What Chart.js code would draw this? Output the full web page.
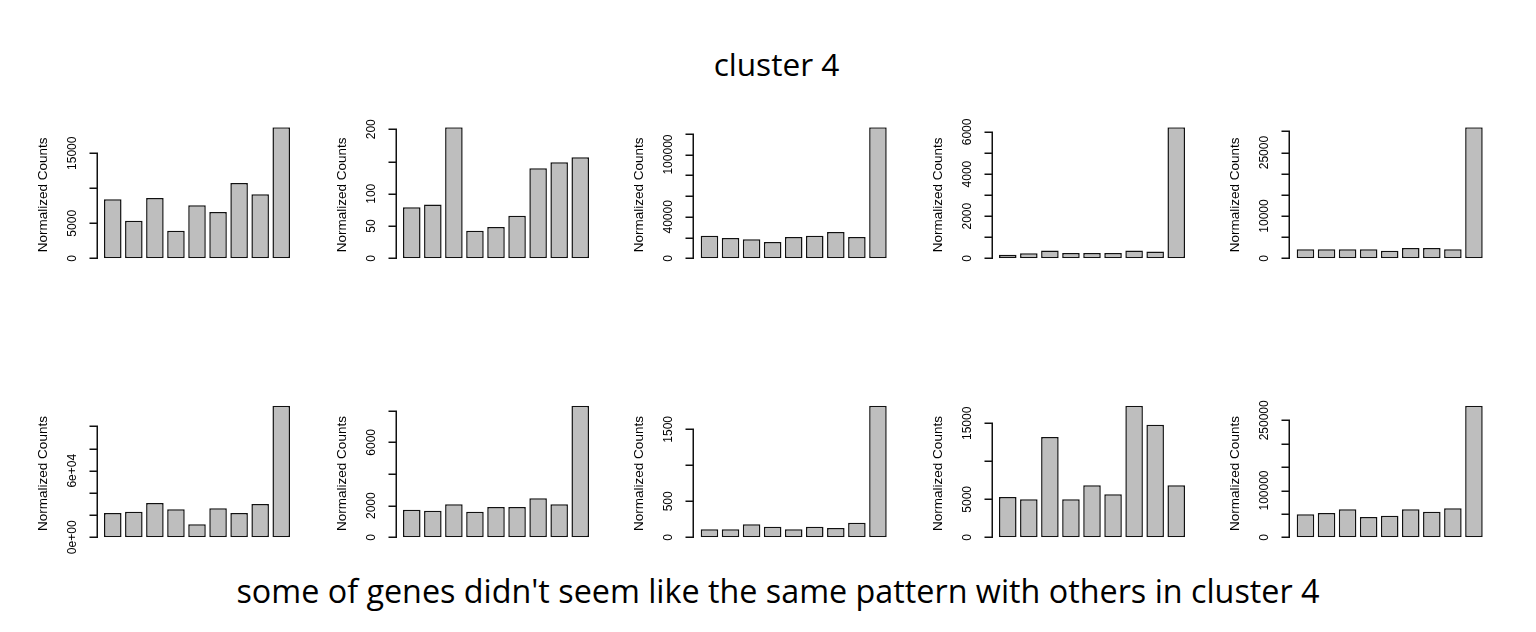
<!DOCTYPE html>
<html>
<head>
<meta charset="utf-8">
<script src="https://cdn.jsdelivr.net/npm/chart.js@4.4.1/dist/chart.umd.min.js"></script>
<style>
  body { margin: 0; background: #fff; width: 1536px; height: 632px; overflow: hidden; position: relative; }
  canvas { position: absolute; }
  .txt { position: absolute; left: 0; text-align: center; font-family: "Open Sans", "Noto Sans", sans-serif;
         font-size: 32px; line-height: 32px; color: #000; white-space: nowrap; }
</style>
</head>
<body>
<div class="txt" id="title" style="top:48px;width:1553px;font-size:31.6px">cluster 4</div>
<div class="txt" id="caption" style="top:574px;width:1556px;font-size:32.3px">some of genes didn't seem like the same pattern with others in cluster 4</div>
<script>
// nine samples per gene, no names shown on the x axis
const samples = ['1', '2', '3', '4', '5', '6', '7', '8', '9'];

// top row
const gene1 = [8430, 5370, 8610, 3940, 7570, 6610, 10760, 9140, 18710];
const gene2 = [79, 83.5, 203, 42.7, 48.4, 65.9, 139.6, 149, 156.6];
const gene3 = [21730, 19520, 18270, 15670, 20480, 21730, 25290, 20480, 126250];
const gene4 = [170, 240, 370, 250, 250, 250, 370, 320, 6220];
const gene5 = [2120, 2120, 2120, 2120, 1790, 2430, 2430, 2120, 30970];
// bottom row
const gene6 = [21890, 23060, 30900, 25230, 11710, 26130, 21890, 30000, 118560];
const gene7 = [1744, 1680, 2085, 1617, 1914, 1914, 2464, 2085, 8313];
const gene8 = [111, 111, 181, 147, 111, 147, 129, 203, 1828];
const gene9 = [5303, 5000, 13200, 5000, 6842, 5658, 17316, 14816, 6842];
const gene10 = [49150, 51920, 59830, 43380, 46150, 59830, 54700, 61970, 281200];

// y axis ticks and their printed labels ('' = tick without label)
const ticks1 = [0, 5000, 10000, 15000];            const labels1 = ['0', '5000', '', '15000'];
const ticks2 = [0, 50, 100, 150, 200];             const labels2 = ['0', '50', '100', '', '200'];
const ticks3 = [0, 20000, 40000, 60000, 80000, 100000, 120000];
const labels3 = ['0', '', '40000', '', '', '100000', ''];
const ticks4 = [0, 1000, 2000, 3000, 4000, 5000, 6000];
const labels4 = ['0', '', '2000', '', '4000', '', '6000'];
const ticks5 = [0, 5000, 10000, 15000, 20000, 25000, 30000];
const labels5 = ['0', '', '10000', '', '', '25000', ''];
const ticks6 = [0, 20000, 40000, 60000, 80000, 100000];
const labels6 = ['0e+00', '', '', '6e+04', '', ''];
const ticks7 = [0, 2000, 4000, 6000, 8000];        const labels7 = ['0', '2000', '', '6000', ''];
const ticks8 = [0, 500, 1000, 1500];               const labels8 = ['0', '500', '', '1500'];
const ticks9 = [0, 5000, 10000, 15000];            const labels9 = ['0', '5000', '', '15000'];
const ticks10 = [0, 50000, 100000, 150000, 200000, 250000];
const labels10 = ['0', '', '100000', '', '', '250000'];

const yTitle = 'Normalized Counts';

const panels = [
  [gene1, ticks1, labels1], [gene2, ticks2, labels2], [gene3, ticks3, labels3],
  [gene4, ticks4, labels4], [gene5, ticks5, labels5],
  [gene6, ticks6, labels6], [gene7, ticks7, labels7], [gene8, ticks8, labels8],
  [gene9, ticks9, labels9], [gene10, ticks10, labels10]
];

// layout of the 2 x 5 grid (left edge of first bar, pixel of 0 and of the max)
const colBarLeft = [104, 403, 700.7, 999, 1296.7];
const rowZero = [258.3, 537.3];
const rowTop = [127.3, 405.7];
const barsWidth = 186;
const gapHalf = 1.755;

// R style left axis: line only between first and last tick, rotated labels
const rAxis = {
  id: 'rAxis',
  afterDatasetsDraw(chart, args, opts) {
    const ctx = chart.ctx;
    const y = chart.scales.y;
    const area = chart.chartArea;
    const ax = Math.round(area.left - 5.5) + 0.25;
    const ticks = opts.ticks, labels = opts.labels;
    ctx.save();
    ctx.strokeStyle = '#111';
    ctx.lineWidth = 1.5;
    ctx.lineCap = 'square';
    ctx.beginPath();
    ctx.moveTo(ax, Math.round(y.getPixelForValue(ticks[0])) + 0.25);
    ctx.lineTo(ax, Math.round(y.getPixelForValue(ticks[ticks.length - 1])) + 0.25);
    ticks.forEach(t => {
      const py = Math.round(y.getPixelForValue(t)) + 0.25;
      ctx.moveTo(ax, py);
      ctx.lineTo(ax - 7, py);
    });
    ctx.stroke();

    ctx.fillStyle = '#000';
    ctx.textAlign = 'center';
    ctx.textBaseline = 'middle';
    ctx.font = '12px "Liberation Sans", Arial, sans-serif';
    ticks.forEach((t, i) => {
      if (!labels[i]) return;
      ctx.save();
      ctx.translate(ax - 24.5, y.getPixelForValue(t));
      ctx.rotate(-Math.PI / 2);
      ctx.fillText(labels[i], 0, 0);
      ctx.restore();
    });

    ctx.font = '13.5px "Liberation Sans", Arial, sans-serif';
    ctx.translate(ax - 53.5, (area.top + area.bottom) / 2 + 2);
    ctx.rotate(-Math.PI / 2);
    ctx.fillText(yTitle, 0, 0);
    ctx.restore();
  }
};

panels.forEach(([values, ticks, labels], i) => {
  const col = i % 5, row = Math.floor(i / 5);
  const barLeft = colBarLeft[col];
  const left = Math.round(barLeft - 80);
  const top = Math.round(rowTop[row] - 20);
  const width = 280;
  const height = Math.round(rowZero[row] + 20) - top;

  const canvas = document.createElement('canvas');
  canvas.width = width;
  canvas.height = height;
  canvas.style.left = left + 'px';
  canvas.style.top = top + 'px';
  document.body.appendChild(canvas);

  const padLeft = barLeft - gapHalf - left;
  const padRight = width - (barLeft + barsWidth + gapHalf - left);
  const padTop = rowTop[row] - top;
  const padBottom = height - (rowZero[row] - top);

  new Chart(canvas, {
    type: 'bar',
    data: {
      labels: samples,
      datasets: [{
        data: values,
        backgroundColor: '#bebebe',
        borderColor: '#111',
        borderWidth: 1.5,
        borderSkipped: false,
        barPercentage: 1,
        categoryPercentage: 1 / 1.2
      }]
    },
    options: {
      responsive: false,
      animation: false,
      devicePixelRatio: 1,
      layout: { padding: { left: padLeft, right: padRight, top: padTop, bottom: padBottom } },
      plugins: {
        legend: { display: false },
        tooltip: { enabled: false },
        rAxis: { ticks: ticks, labels: labels }
      },
      scales: {
        x: { display: false, offset: true },
        y: { display: false, min: 0, max: Math.max(...values) }
      }
    },
    plugins: [rAxis]
  });
});
</script>
</body>
</html>
